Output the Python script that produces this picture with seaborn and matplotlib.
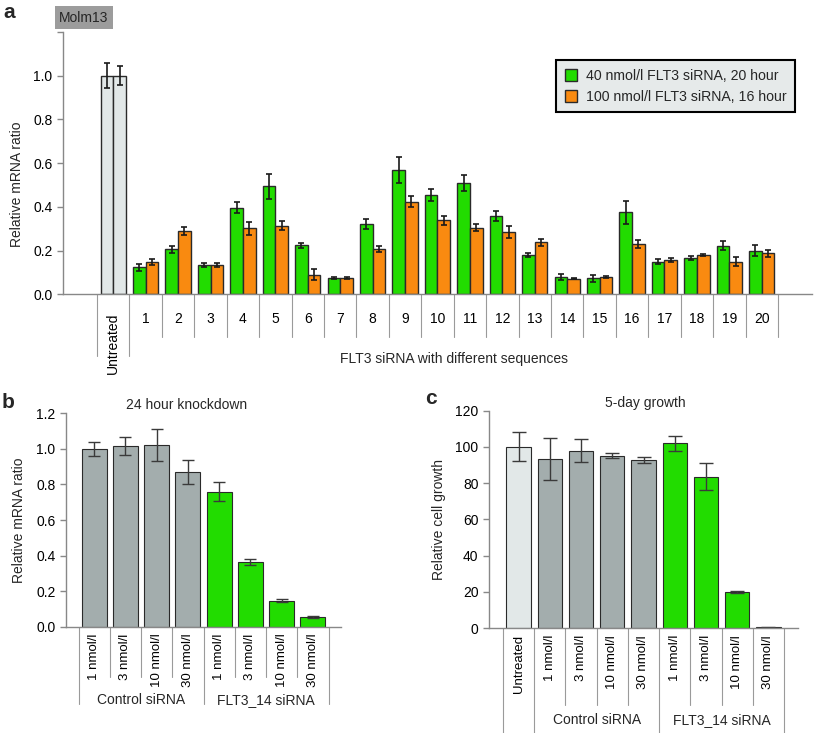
import numpy as np
import pandas as pd
import seaborn as sns
import matplotlib
matplotlib.use("Agg")
from matplotlib import pyplot as plt
from matplotlib import transforms

# ---- Panel a: FLT3 mRNA after siRNA with 20 different sequences ----
seq_labels = ["Untreated", "1", "2", "3", "4", "5", "6", "7", "8", "9", "10",
              "11", "12", "13", "14", "15", "16", "17", "18", "19", "20"]
cond_labels = ["40 nmol/l FLT3 siRNA, 20 hour", "100 nmol/l FLT3 siRNA, 16 hour"]
green_vals = [1.00, 0.123, 0.205, 0.134, 0.397, 0.494, 0.225, 0.074, 0.321, 0.570,
              0.454, 0.508, 0.359, 0.181, 0.079, 0.073, 0.375, 0.150, 0.166, 0.222, 0.199]
green_err = [0.057, 0.015, 0.017, 0.008, 0.025, 0.058, 0.011, 0.003, 0.023, 0.059,
             0.028, 0.037, 0.022, 0.010, 0.015, 0.015, 0.052, 0.013, 0.010, 0.020, 0.025]
orange_vals = [1.00, 0.149, 0.290, 0.134, 0.302, 0.313, 0.090, 0.074, 0.208, 0.424,
               0.339, 0.305, 0.284, 0.237, 0.071, 0.079, 0.231, 0.158, 0.179, 0.150, 0.187]
orange_err = [0.044, 0.013, 0.018, 0.010, 0.030, 0.021, 0.024, 0.006, 0.015, 0.024,
              0.020, 0.015, 0.027, 0.017, 0.003, 0.005, 0.018, 0.010, 0.006, 0.020, 0.017]

# ---- Panel b: 24 hour knockdown ----
dose_labels = ["1 nmol/l", "3 nmol/l", "10 nmol/l", "30 nmol/l"]
group_labels = ["Control siRNA", "FLT3_14 siRNA"]
b_vals = [0.998, 1.017, 1.023, 0.870, 0.760, 0.364, 0.146, 0.053]
b_err = [0.038, 0.050, 0.090, 0.068, 0.053, 0.019, 0.008, 0.005]

# ---- Panel c: 5-day growth ----
c_vals = [100.1, 93.5, 97.9, 95.2, 92.9, 102.0, 83.6, 19.9, 0.4]
c_err = [8.0, 11.6, 6.2, 1.5, 1.6, 4.1, 7.3, 0.8, 0.2]

GREEN = "#22dc00"
ORANGE = "#f98a10"
GREY = "#a3adad"
LIGHT = "#e2e8e8"
EDGE = "#2a2a2a"
LINE = "#9a9a9a"

sns.set_theme(style="ticks")
plt.rcParams["font.family"] = ["Liberation Sans", "DejaVu Sans"]
plt.rcParams["axes.edgecolor"] = "#888888"
plt.rcParams["xtick.color"] = "#888888"
plt.rcParams["ytick.color"] = "#888888"
plt.rcParams["xtick.labelcolor"] = "black"
plt.rcParams["ytick.labelcolor"] = "black"

W, H = 814, 733
fig = plt.figure(figsize=(W / 100, H / 100), dpi=100)


def px_axes(left, top, right, bottom):
    """ Axes placed from pixel edges of the figure. """
    return fig.add_axes([left / W, 1 - bottom / H, (right - left) / W, (bottom - top) / H])


def table_lines(ax, xs, y_end, lw=0.8):
    """ Vertical separator lines under the x axis (table look). """
    trans = transforms.blended_transform_factory(ax.transData, ax.transAxes)
    for x in xs:
        ax.plot([x, x], [0, y_end], transform=trans, clip_on=False,
                color=LINE, lw=lw)


def clean_axes(ax):
    sns.despine(ax=ax)
    ax.spines["left"].set_linewidth(1.0)
    ax.spines["bottom"].set_linewidth(1.0)
    ax.tick_params(axis="x", length=0)
    ax.tick_params(axis="y", length=4, width=1.0, labelsize=10)
    ax.set_xlabel("")


# ================= Panel a =================
ax_a = px_axes(63, 32, 812, 294.3)
df_a = pd.DataFrame({
    "seq": seq_labels * 2,
    "cond": [cond_labels[0]] * len(seq_labels) + [cond_labels[1]] * len(seq_labels),
    "val": green_vals + orange_vals,
})
sns.barplot(data=df_a, x="seq", y="val", hue="cond", order=seq_labels,
            hue_order=cond_labels, palette=[GREEN, ORANGE], saturation=1,
            errorbar=None, width=0.78, edgecolor=EDGE, linewidth=1.0,
            legend=False, ax=ax_a)
# untreated bars are light grey
for cont in ax_a.containers:
    cont.patches[0].set_facecolor(LIGHT)
for cont, vals, errs in zip(ax_a.containers, [green_vals, orange_vals], [green_err, orange_err]):
    xs = [p.get_x() + p.get_width() / 2 for p in cont.patches]
    ax_a.errorbar(xs, vals, yerr=errs, fmt="none", ecolor="#1a1a1a",
                  elinewidth=1.2, capsize=2.5, capthick=1.2)
clean_axes(ax_a)
ax_a.set_ylim(0, 1.2)
ax_a.set_yticks([0, 0.2, 0.4, 0.6, 0.8, 1.0, 1.2])
ax_a.set_yticklabels(["0.0", "0.2", "0.4", "0.6", "0.8", "1.0", ""])
ax_a.set_ylabel("Relative mRNA ratio", fontsize=10)
ax_a.yaxis.set_label_coords(-0.052, 0.42)
ax_a.tick_params(axis="x", pad=13, labelsize=10)
ax_a.get_xticklabels()[0].set_rotation(90)
table_lines(ax_a, [-0.5, 0.5], -0.235)
table_lines(ax_a, np.arange(1.5, len(seq_labels), 1.0), -0.163)
ax_a.text((1 + len(seq_labels) - 1) / 2, -0.245, "FLT3 siRNA with different sequences",
          transform=transforms.blended_transform_factory(ax_a.transData, ax_a.transAxes),
          ha="center", va="center", fontsize=10)
ax_a.legend(handles=[ax_a.containers[0].patches[1], ax_a.containers[1].patches[1]],
            labels=cond_labels, loc="upper right", bbox_to_anchor=(0.983, 0.908),
            fontsize=10.2, frameon=True, fancybox=False, framealpha=1,
            facecolor="#e6eaea", edgecolor="black", handlelength=0.9,
            handleheight=0.9, labelspacing=0.5, borderpad=0.6, handletextpad=0.6,
            borderaxespad=0.3)
ax_a.get_legend().get_frame().set_linewidth(1.5)
fig.text(84 / W, 1 - 17.5 / H, "Molm13", ha="center", va="center", fontsize=10,
         bbox=dict(facecolor="#9c9c9c", edgecolor="none", pad=3))

# ================= Panel b =================
ax_b = px_axes(66, 413.3, 341, 626.7)
df_b = pd.DataFrame({
    "key": [g + " " + d for g in group_labels for d in dose_labels],
    "group": [g for g in group_labels for d in dose_labels],
    "val": b_vals,
})
sns.barplot(data=df_b, x="key", y="val", hue="group", dodge=False,
            palette={group_labels[0]: GREY, group_labels[1]: GREEN}, saturation=1,
            errorbar=None, width=0.8, edgecolor=EDGE, linewidth=0.8,
            legend=False, ax=ax_b)
ax_b.errorbar(np.arange(len(b_vals)), b_vals, yerr=b_err, fmt="none",
              ecolor="#3a3a3a", elinewidth=1.0, capsize=4.5, capthick=1.0)
clean_axes(ax_b)
ax_b.set_ylim(0, 1.2)
ax_b.set_yticks([0, 0.2, 0.4, 0.6, 0.8, 1.0, 1.2])
ax_b.set_yticklabels(["0.0", "0.2", "0.4", "0.6", "0.8", "1.0", "1.2"])
ax_b.set_xticks(np.arange(len(b_vals)))
ax_b.set_xticklabels(dose_labels * 2, rotation=90, fontsize=9.5)
ax_b.tick_params(axis="x", pad=5)
ax_b.set_ylabel("Relative mRNA ratio", fontsize=10, labelpad=7)
ax_b.text(0.44, 1.005, "24 hour knockdown", transform=ax_b.transAxes,
          ha="center", va="bottom", fontsize=10)
table_lines(ax_b, [-0.5, 3.5, 7.5], -0.362)
table_lines(ax_b, [0.5, 1.5, 2.5, 4.5, 5.5, 6.5], -0.236)
trans_b = transforms.blended_transform_factory(ax_b.transData, ax_b.transAxes)
ax_b.text(1.5, -0.345, group_labels[0], transform=trans_b, ha="center", va="center", fontsize=10)
ax_b.text(5.5, -0.345, group_labels[1], transform=trans_b, ha="center", va="center", fontsize=10)

# ================= Panel c =================
ax_c = px_axes(489, 410.7, 798, 628)
df_c = pd.DataFrame({
    "key": ["Untreated"] + [g + " " + d for g in group_labels for d in dose_labels],
    "group": ["Untreated"] + [g for g in group_labels for d in dose_labels],
    "val": c_vals,
})
sns.barplot(data=df_c, x="key", y="val", hue="group", dodge=False,
            palette={"Untreated": LIGHT, group_labels[0]: GREY, group_labels[1]: GREEN},
            saturation=1, errorbar=None, width=0.78, edgecolor=EDGE, linewidth=0.8,
            legend=False, ax=ax_c)
ax_c.errorbar(np.arange(len(c_vals)), c_vals, yerr=c_err, fmt="none",
              ecolor="#3a3a3a", elinewidth=1.0, capsize=5, capthick=1.0)
clean_axes(ax_c)
ax_c.set_ylim(0, 120)
ax_c.set_yticks([0, 20, 40, 60, 80, 100, 120])
ax_c.set_xticks(np.arange(len(c_vals)))
ax_c.set_xticklabels(["Untreated"] + dose_labels * 2, rotation=90, fontsize=9.5)
ax_c.tick_params(axis="x", pad=5)
ax_c.set_ylabel("Relative cell growth", fontsize=10, labelpad=7)
ax_c.text(0.505, 1.005, "5-day growth", transform=ax_c.transAxes,
          ha="center", va="bottom", fontsize=10)
table_lines(ax_c, [-0.5, 0.5, 4.5, 8.5], -0.49)
table_lines(ax_c, [1.5, 2.5, 3.5, 5.5, 6.5, 7.5], -0.354)
trans_c = transforms.blended_transform_factory(ax_c.transData, ax_c.transAxes)
ax_c.text(2.5, -0.423, group_labels[0], transform=trans_c, ha="center", va="center", fontsize=10)
ax_c.text(6.5, -0.423, group_labels[1], transform=trans_c, ha="center", va="center", fontsize=10)

# panel letters
fig.text(9 / W, 1 - 12 / H, "a", fontsize=15, fontweight="bold", ha="center", va="center")
fig.text(8 / W, 1 - 403 / H, "b", fontsize=15, fontweight="bold", ha="center", va="center")
fig.text(431 / W, 1 - 399 / H, "c", fontsize=15, fontweight="bold", ha="center", va="center")

fig.savefig("out.png", dpi=100)
